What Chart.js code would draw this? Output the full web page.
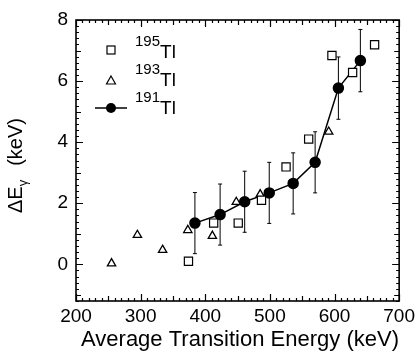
<!DOCTYPE html>
<html>
<head>
<meta charset="utf-8">
<script src="https://cdn.jsdelivr.net/npm/chart.js@4.4.1/dist/chart.umd.min.js"></script>
<style>
  body { margin: 0; background: #fff; }
  canvas { display: block; }
</style>
</head>
<body>
<canvas id="chart" width="419" height="356"></canvas>
<script>
// tick labels
const xTicks = [200, 300, 400, 500, 600, 700];
const yTicks = [0, 2, 4, 6, 8];

// 191Tl (filled circles joined by a line, with error bars)
const tl191Energy = [384, 423, 461, 499, 536, 570, 606, 640];
const tl191Shift = [1.35, 1.63, 2.05, 2.34, 2.65, 3.34, 5.77, 6.67];
const tl191Error = [1.0, 1.0, 1.0, 1.0, 1.0, 1.0, 1.02, 1.02];

// 195Tl (open squares)
const tl195Energy = [374, 413, 451, 487, 525, 560, 596, 628, 662];
const tl195Shift = [0.1, 1.35, 1.35, 2.1, 3.19, 4.1, 6.84, 6.28, 7.19];

// 193Tl (open triangles)
const tl193Energy = [255, 295, 334, 373, 411, 448, 485, 591];
const tl193Shift = [0.03, 0.96, 0.47, 1.12, 0.93, 2.04, 2.29, 4.34];

const FONT = "'Liberation Sans', Arial, Helvetica, sans-serif";

const toPoints = (xs, ys) => xs.map((x, i) => ({ x: x, y: ys[i] }));

// error bars, frame, inside ticks, titles and legend
const decorations = {
  id: "decorations",
  beforeDatasetsDraw(chart) {
    const ctx = chart.ctx;
    const xs = chart.scales.x;
    const ys = chart.scales.y;
    ctx.save();
    ctx.strokeStyle = "#000";
    ctx.lineWidth = 1;
    tl191Energy.forEach((e, i) => {
      const px = xs.getPixelForValue(e);
      const top = ys.getPixelForValue(tl191Shift[i] + tl191Error[i]);
      const bot = ys.getPixelForValue(tl191Shift[i] - tl191Error[i]);
      ctx.beginPath();
      ctx.moveTo(px, top);
      ctx.lineTo(px, bot);
      ctx.moveTo(px - 2, top);
      ctx.lineTo(px + 2, top);
      ctx.moveTo(px - 2, bot);
      ctx.lineTo(px + 2, bot);
      ctx.stroke();
    });
    ctx.restore();
  },
  afterDraw(chart) {
    const ctx = chart.ctx;
    const a = chart.chartArea;
    const xs = chart.scales.x;
    const ys = chart.scales.y;
    ctx.save();
    ctx.strokeStyle = "#000";

    // frame
    ctx.lineWidth = 1.6;
    ctx.strokeRect(a.left, a.top, a.right - a.left, a.bottom - a.top);

    // x ticks every 10, longer at 50 and 100
    ctx.lineWidth = 1.2;
    ctx.beginPath();
    for (let v = xs.min; v <= xs.max + 0.001; v += 10) {
      const px = Math.round(xs.getPixelForValue(v)) + 0.5;
      const len = v % 100 === 0 ? 7 : (v % 50 === 0 ? 5 : 3);
      ctx.moveTo(px, a.bottom);
      ctx.lineTo(px, a.bottom - len);
      ctx.moveTo(px, a.top);
      ctx.lineTo(px, a.top + len);
    }
    // y ticks every 0.2, longer at integers
    for (let k = Math.ceil(ys.min * 5); k <= ys.max * 5; k++) {
      const v = k / 5;
      const py = Math.round(ys.getPixelForValue(v)) + 0.5;
      const len = k % 10 === 0 ? 7 : (k % 5 === 0 ? 5 : 3);
      ctx.moveTo(a.left, py);
      ctx.lineTo(a.left + len, py);
      ctx.moveTo(a.right, py);
      ctx.lineTo(a.right - len, py);
    }
    ctx.stroke();

    ctx.fillStyle = "#000";

    // x title
    ctx.font = "22px " + FONT;
    ctx.textAlign = "center";
    ctx.textBaseline = "middle";
    ctx.fillText("Average Transition Energy (keV)", 240, 340);

    // y title, rotated, reading from bottom to top
    ctx.save();
    ctx.translate(22, 213);
    ctx.rotate(-Math.PI / 2);
    ctx.textAlign = "left";
    ctx.textBaseline = "alphabetic";
    ctx.font = "20px " + FONT;
    ctx.fillText("ΔE", 0, 0);
    const w1 = ctx.measureText("ΔE").width;
    ctx.font = "13px " + FONT;
    ctx.fillText("γ", w1, 5);
    const w2 = ctx.measureText("γ").width;
    ctx.font = "20px " + FONT;
    ctx.fillText("(keV)", w1 + w2 + 14, 0);
    ctx.restore();

    // legend
    const label = (mass, x, y) => {
      ctx.textAlign = "left";
      ctx.textBaseline = "alphabetic";
      ctx.font = "15px " + FONT;
      ctx.fillText(mass, x, y - 6);
      const w = ctx.measureText(mass).width;
      ctx.font = "19px " + FONT;
      ctx.fillText("Tl", x + w, y + 6);
    };
    ctx.lineWidth = 1.2;
    // square
    ctx.strokeRect(107, 46, 8, 8);
    label("195", 135, 52);
    // triangle
    ctx.beginPath();
    ctx.moveTo(111, 76);
    ctx.lineTo(115.5, 84);
    ctx.lineTo(106.5, 84);
    ctx.closePath();
    ctx.stroke();
    label("193", 135, 80);
    // line + circle
    ctx.lineWidth = 1.5;
    ctx.beginPath();
    ctx.moveTo(95, 108);
    ctx.lineTo(127, 108);
    ctx.stroke();
    ctx.beginPath();
    ctx.arc(111, 108, 5, 0, Math.PI * 2);
    ctx.fill();
    label("191", 135, 108);

    ctx.restore();
  }
};

new Chart(document.getElementById("chart"), {
  type: "scatter",
  data: {
    datasets: [
      {
        label: "195Tl",
        data: toPoints(tl195Energy, tl195Shift),
        pointStyle: "rect",
        pointRadius: 5.8,
        borderColor: "#000",
        backgroundColor: "#fff",
        borderWidth: 1.2,
        showLine: false
      },
      {
        label: "193Tl",
        data: toPoints(tl193Energy, tl193Shift),
        pointStyle: "triangle",
        pointRadius: 4.8,
        borderColor: "#000",
        backgroundColor: "#fff",
        borderWidth: 1.3,
        showLine: false
      },
      {
        label: "191Tl",
        data: toPoints(tl191Energy, tl191Shift),
        pointStyle: "circle",
        pointRadius: 5,
        borderColor: "#000",
        backgroundColor: "#000",
        borderWidth: 1.5,
        showLine: true
      }
    ]
  },
  options: {
    responsive: false,
    animation: false,
    layout: { padding: { left: 0, right: 16, top: 20, bottom: 0 } },
    plugins: {
      legend: { display: false },
      tooltip: { enabled: false }
    },
    scales: {
      x: {
        type: "linear",
        min: 200,
        max: 700,
        afterBuildTicks: (scale) => { scale.ticks = xTicks.map((v) => ({ value: v })); },
        afterFit: (scale) => { scale.height = 55; },
        grid: { display: false, drawTicks: false },
        border: { display: false },
        ticks: { color: "#000", padding: 4, font: { family: FONT, size: 19 }, maxRotation: 0 }
      },
      y: {
        type: "linear",
        min: -1.2,
        max: 8,
        afterBuildTicks: (scale) => { scale.ticks = yTicks.map((v) => ({ value: v })); },
        afterFit: (scale) => { scale.width = 76; },
        grid: { display: false, drawTicks: false },
        border: { display: false },
        ticks: { color: "#000", padding: 8, font: { family: FONT, size: 19 } }
      }
    }
  },
  plugins: [decorations]
});
</script>
</body>
</html>
